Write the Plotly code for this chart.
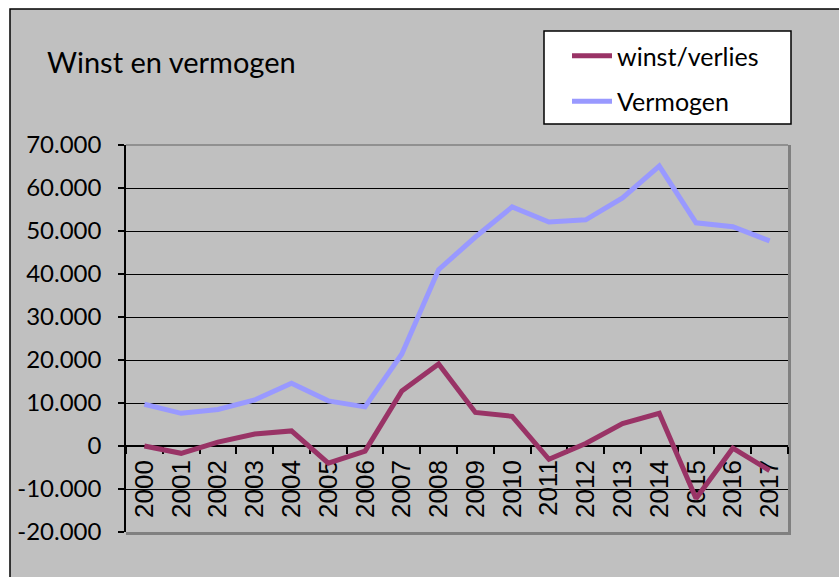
import plotly.graph_objects as go

years = [str(y) for y in range(2000, 2018)]
winst = [0, -1700, 900, 2800, 3500, -4000, -1200, 12800, 19100, 7800, 6900,
         -3100, 600, 5200, 7600, -12200, -500, -5700]
vermogen = [9700, 7600, 8500, 10700, 14600, 10500, 9100, 21400, 41000, 48600,
            55600, 52100, 52600, 57700, 65100, 51900, 51000, 47700]
ytickvals = [-20000, -10000, 0, 10000, 20000, 30000, 40000, 50000, 60000, 70000]
yticktext = ["-20.000", "-10.000", "0", "10.000", "20.000", "30.000",
             "40.000", "50.000", "60.000", "70.000"]

W, H = 839, 577
L, R, T, B = 126, 51, 145, 45
pw, ph = W - L - R, H - T - B


def px(x):
    return (x - L) / pw


def py(y):
    return (H - B - y) / ph


fig = go.Figure()
fig.add_trace(go.Scatter(x=years, y=winst, name="winst/verlies", mode="lines",
                         line=dict(color="#993366", width=5), legendgroup="a"))
fig.add_trace(go.Scatter(x=years, y=vermogen, name="Vermogen", mode="lines",
                         line=dict(color="#9999FF", width=5), legendgroup="b"))

shapes = [
    # grey chart area with black border
    dict(type="rect", xref="paper", yref="paper", x0=px(10), y0=py(9),
         x1=px(W + 20), y1=py(H + 20), fillcolor="#c0c0c0",
         line=dict(color="black", width=1.5), layer="below"),
    # legend box
    dict(type="rect", xref="paper", yref="paper", x0=px(544), y0=py(31),
         x1=px(791), y1=py(124), fillcolor="white",
         line=dict(color="black", width=1.5), layer="below"),
    # plot area shadow
    dict(type="rect", xref="paper", yref="paper", x0=1, y0=py(H - B + 3),
         x1=px(L + pw + 3), y1=1, fillcolor="#808080", line=dict(width=0), layer="below"),
    dict(type="rect", xref="paper", yref="paper", x0=0, y0=py(H - B + 3),
         x1=px(L + pw + 3), y1=0, fillcolor="#808080", line=dict(width=0), layer="below"),
    dict(type="line", xref="paper", yref="paper", x0=0, y0=1, x1=1, y1=1,
         line=dict(color="#808080", width=1.5)),
]

fig.update_layout(
    width=W, height=H,
    margin=dict(l=L, r=R, t=T, b=B),
    paper_bgcolor="white",
    plot_bgcolor="white",
    shapes=shapes,
    title=dict(text="Winst en vermogen", x=47 / W, xanchor="left", xref="container",
               y=1 - 63 / H, yanchor="middle", yref="container",
               font=dict(family="Lato", size=29, color="black")),
    legend=dict(x=px(567), y=py(33), xanchor="left", yanchor="top",
                bgcolor="rgba(0,0,0,0)", borderwidth=0,
                font=dict(family="Lato", size=25, color="black"),
                tracegroupgap=10, itemwidth=40),
    xaxis=dict(type="category", range=[-0.5, 17.5], anchor="free", position=2 / 9,
               showline=True, linecolor="black", linewidth=1.5,
               ticks="outside", tickson="boundaries", ticklen=7, tickcolor="black",
               tickwidth=1.5, tickangle=-90, showgrid=False, layer="below traces",
               ticklabelstandoff=3,
               tickfont=dict(family="Liberation Sans", size=26, color="black")),
    yaxis=dict(range=[-20000, 70000], tickvals=ytickvals, ticktext=yticktext,
               showline=True, linecolor="black", linewidth=1.5,
               ticks="outside", ticklen=6, tickcolor="black", tickwidth=1.5,
               showgrid=True, gridcolor="black", gridwidth=1,
               zeroline=False, layer="below traces", ticklabelstandoff=12,
               tickfont=dict(family="Lato", size=24, color="black")),
    showlegend=True,
)

fig.write_html("out.html", config={"displayModeBar": False},
               post_script="document.body.style.margin='0px';")
